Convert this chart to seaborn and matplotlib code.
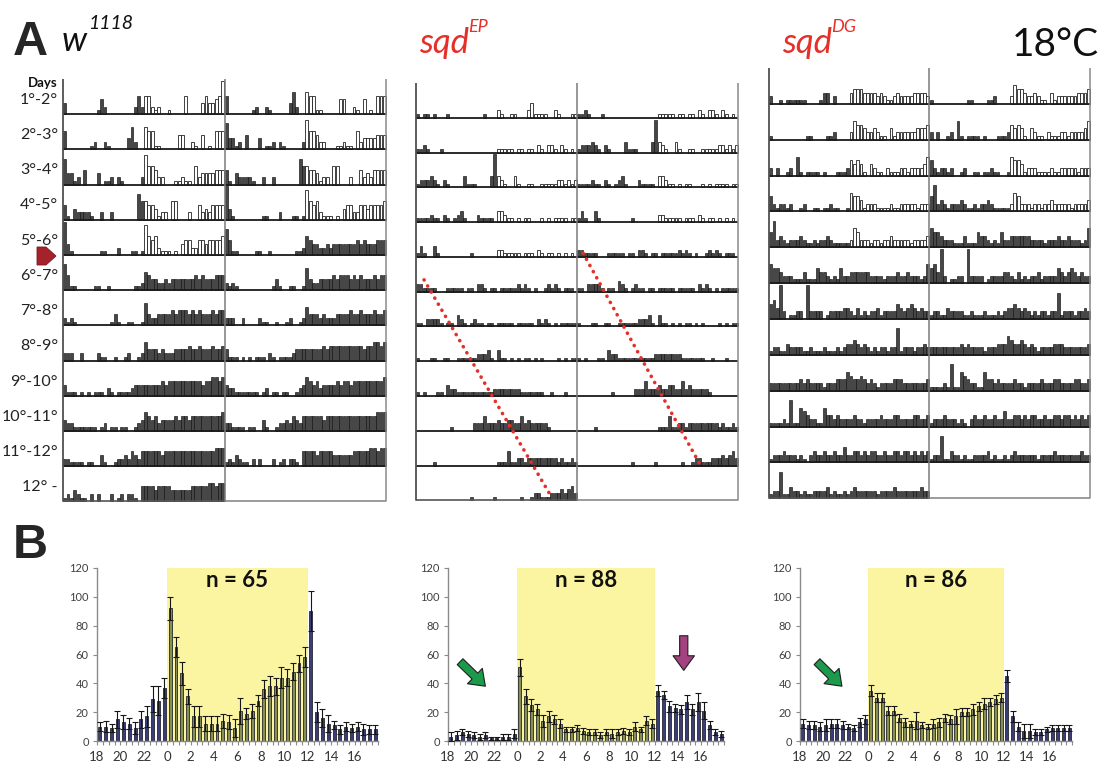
import numpy as np
import pandas as pd
import matplotlib
matplotlib.use("Agg")
import matplotlib.pyplot as plt
import matplotlib.patches as mpatches
import seaborn as sns

W, H = 1102, 769
BINS = 48          # 30-min bins per day
LD_DAYS = 5        # days 1-5 in light/dark, then constant darkness
LIGHT_ON, LIGHT_OFF = 12, 36   # bin range of the light phase in panel B

# ---------------- Panel A: activity per 30-min bin (0-9 scale), one string per day ----------------
DAY_LABELS = ["1°-2°", "2°-3°", "3°-4°", "4°-5°", "5°-6°", "6°-7°", "7°-8°",
              "8°-9°", "9°-10°", "10°-11°", "11°-12°", "12° -"]

W1118_DAYS = [
    "300000000014200000000252" "552120010000500003533459",
    "500000001200210000036200" "655110000044002104010555",
    "733120400030112021000002" "855422000112110523333444",
    "410322221002002000000075" "544312205500020042324444",
    "931000000001100020001101" "854521110103442244344445",
    "741100000110010000000112" "543322323333333434333444",
    "212100000000001310011001" "632233334344434343334344",
    "222002000021100100120012" "533323222333343343334334",
    "311101010111021011112333" "333334344444444443445545",
    "322111111101201101100123" "543423333434434444444445",
    "221111011003100122324324" "444443444444444444444555",
    "121321102020002012022104" "444344443333334444455455",
]

SQD_EP_DAYS = [
    "101101000100000000001000" "210011000241111002100011",
    "112100010000000000000000" "111110110110210221021010",
    "122232102100003111000039" "321003100110011111221212",
    "111121102101231000211110" "332110101100010101111011",
    "131003100000000010000000" "221111101110210110101010",
    "221111000111110110221011" "011111212101001212101110",
    "110222210110321012110110" "111110111110212101011111",
    "100011001100111111222310" "311010101101010000101011",
    "101000110322111111111112" "222222211111110010001000",
    "000000000010000002224222" "322332242322222100000000",
    "000001000000000000000000" "111411221222222222121121",
    "000000000000000010000001" "000000010012211122232342",
]

SQD_DG_DAYS = [
    "200101111110000133020000" "344433332321123222233332",
    "100000000001100001120000" "254432232110312222223334",
    "202001205101111010001112" "434310321102111221222235",
    "421221200120011011211001" "544312221111211222221222",
    "472321222321121223211111" "254222122122322222122223",
    "544322211131114332121422" "333333222212223223222125",
    "453920112209222201222233" "213121223122224323432322",
    "122113222211211121112123" "343232121221227122212232",
    "222222222323222212223335" "433432321222233322222223",
    "111121711543221153323222" "232212222322233222233223",
    "122232221210232232232242" "233232332232233233232323",
    "122711322121122223121121" "232222221222232222222322",
]

# ---------------- Panel B: mean activity (± SEM) per 30-min bin, ZT18 -> ZT17.5 ----------------
HOUR_LABELS = ["18", "20", "22", "0", "2", "4", "6", "8", "10", "12", "14", "16"]

W1118_MEAN = [10, 10, 9, 15, 13, 12, 9, 15, 17, 29, 28, 37,
              92, 65, 47, 31, 17, 17, 12, 12, 12, 14, 13, 9,
              21, 19, 21, 28, 36, 38, 38, 44, 44, 48, 54, 58,
              90, 20, 16, 12, 11, 8, 10, 9, 10, 8, 8, 8]
W1118_SEM = [3, 4, 3, 6, 5, 4, 4, 6, 7, 9, 10, 7,
             8, 7, 8, 5, 7, 7, 5, 5, 5, 5, 5, 6,
             9, 4, 5, 4, 6, 7, 6, 7, 6, 6, 6, 7,
             14, 7, 6, 6, 3, 3, 3, 3, 3, 4, 3, 3]

SQD_EP_MEAN = [3, 4, 6, 5, 4, 3, 4, 2, 2, 3, 3, 5,
               51, 31, 25, 22, 14, 17, 15, 12, 8, 8, 9, 7,
               6, 6, 4, 6, 5, 6, 7, 6, 10, 8, 14, 12,
               35, 32, 24, 23, 22, 27, 22, 27, 21, 11, 6, 5]
SQD_EP_SEM = [3, 3, 2, 2, 2, 2, 2, 1, 1, 2, 2, 3,
              6, 5, 4, 4, 4, 4, 3, 3, 2, 2, 2, 2,
              2, 2, 2, 2, 3, 2, 2, 2, 3, 2, 3, 3,
              4, 3, 4, 3, 3, 5, 4, 6, 6, 3, 2, 2]

SQD_DG_MEAN = [12, 11, 11, 10, 11, 12, 12, 11, 10, 9, 13, 15,
               35, 30, 30, 21, 21, 16, 13, 12, 14, 11, 10, 12,
               13, 16, 15, 17, 20, 20, 22, 24, 26, 27, 29, 30,
               45, 17, 10, 7, 7, 6, 6, 8, 9, 9, 9, 9]
SQD_DG_SEM = [3, 3, 3, 3, 4, 3, 3, 3, 2, 2, 3, 3,
              4, 3, 3, 3, 3, 3, 3, 2, 6, 2, 2, 3,
              3, 3, 3, 5, 3, 3, 4, 3, 4, 3, 3, 3,
              4, 4, 3, 5, 5, 2, 2, 2, 2, 2, 2, 2]

N_FLIES = [65, 88, 86]

NAVY = "#2e3482"
OLIVE = "#8d9a4b"
YELLOW = "#fbf5a2"
RED = "#e5302a"

sns.set_theme(style="white")
plt.rcParams["font.family"] = ["Lato", "DejaVu Sans"]

fig = plt.figure(figsize=(W / 100, H / 100), dpi=100)


def px_axes(left, top, width, height):
    return fig.add_axes([left / W, 1 - (top + height) / H, width / W, height / H])


def draw_actogram(ax, days):
    n = len(days)
    counts = np.array([[int(c) for c in d] for d in days])
    assert counts.shape == (n, BINS)
    filled = {"x": [], "h": [], "b": []}
    hollow = {"x": [], "h": [], "b": []}
    for r in range(n):
        base = n - 1 - r
        for half in (0, 1):
            d = r + half
            if d >= n:
                continue
            for b in range(BINS):
                v = counts[d, b]
                if v == 0:
                    continue
                tgt = hollow if (d < LD_DAYS and b >= BINS // 2) else filled
                tgt["x"].append(half * BINS + b + 0.5)
                tgt["h"].append(v / 9 * 0.95)
                tgt["b"].append(base)
    ax.bar(filled["x"], filled["h"], bottom=filled["b"], width=0.85,
           color="#474747", edgecolor="#111111", linewidth=0.45)
    ax.bar(hollow["x"], hollow["h"], bottom=hollow["b"], width=0.85,
           color="white", edgecolor="#222222", linewidth=0.6)
    for r in range(n):
        base = n - 1 - r
        if r < n - 1:
            ax.plot([0, 2 * BINS], [base, base], color="#1a1a1a", lw=1.3, solid_capstyle="butt")
        else:
            ax.plot([0, BINS], [base, base], color="#555555", lw=1.2, solid_capstyle="butt")
            ax.plot([BINS, 2 * BINS], [base, base], color="#8a8a8a", lw=1.2, solid_capstyle="butt")
    ax.plot([0, 0], [0, n], color="#505050", lw=1.3)
    ax.plot([BINS, BINS], [0, n], color="#7a7a7a", lw=1.1)
    ax.plot([2 * BINS, 2 * BINS], [0, n], color="#8a8a8a", lw=1.1)
    ax.set_xlim(-0.3, 2 * BINS + 0.3)
    ax.set_ylim(-0.02, n)
    ax.axis("off")


def draw_profile(ax, mean, sem, n):
    phase = ["light" if LIGHT_ON <= i < LIGHT_OFF else "dark" for i in range(BINS)]
    df = pd.DataFrame({"bin": np.arange(BINS), "activity": mean, "phase": phase})
    ax.axvspan(LIGHT_ON - 0.5, LIGHT_OFF - 0.5, color=YELLOW, lw=0, zorder=0)
    sns.barplot(data=df, x="bin", y="activity", hue="phase", hue_order=["dark", "light"],
                palette={"dark": NAVY, "light": OLIVE}, dodge=False, width=0.5,
                errorbar=None, edgecolor="#26262e", linewidth=0.6, legend=False, ax=ax)
    ax.errorbar(np.arange(BINS), mean, yerr=sem, fmt="none", ecolor="#161616",
                elinewidth=0.8, capsize=2.3, capthick=0.8, zorder=5)
    ax.set_xlim(-0.5, BINS - 0.5)
    ax.set_ylim(0, 120)
    ax.set_xticks([4 * k - 0.5 for k in range(len(HOUR_LABELS))])
    ax.set_xticklabels(HOUR_LABELS)
    ax.set_xticks(np.arange(BINS + 1) - 0.5, minor=True)
    ax.set_yticks(range(0, 121, 20))
    ax.tick_params(axis="x", which="both", direction="out", length=3, width=0.8,
                   color="#8a8a8a", bottom=True, labelsize=9.5, labelcolor="#333333", pad=4)
    ax.tick_params(axis="y", direction="out", length=3, width=0.8, color="#8a8a8a",
                   left=True, labelsize=8, labelcolor="#404040", pad=3)
    ax.set_xlabel("")
    ax.set_ylabel("")
    sns.despine(ax=ax)
    for s in ("left", "bottom"):
        ax.spines[s].set_color("#8a8a8a")
        ax.spines[s].set_linewidth(1.0)
    ax.text((LIGHT_ON + LIGHT_OFF) / 2 - 0.5, 111, f"n = {n}", ha="center", va="center",
            fontsize=16, fontweight="bold", color="#111111")
    ax.patch.set_alpha(0)


def block_arrow(ax, start, end, color):
    ax.annotate("", xy=end, xytext=start, annotation_clip=False,
                arrowprops=dict(arrowstyle="simple,head_length=0.75,head_width=1.1,tail_width=0.42",
                                fc=color, ec="#1e1e1e", lw=0.8, mutation_scale=14,
                                shrinkA=0, shrinkB=0))


# ---- actograms ----
ax_w = px_axes(62, 79, 325, 423)
draw_actogram(ax_w, W1118_DAYS)
ax_ep = px_axes(415, 83, 324, 418)
draw_actogram(ax_ep, SQD_EP_DAYS)
ax_dg = px_axes(768, 68, 323, 431)
draw_actogram(ax_dg, SQD_DG_DAYS)

# period-lengthening trend in sqd^EP free run
for (x0, r0), (x1, r1) in [((2.4, 5.66), (40.0, 11.84)), ((49.8, 4.89), (84.4, 10.92))]:
    ax_ep.plot([x0, x1], [12 - r0, 12 - r1], color=RED, lw=2.6, ls=(0, (0.05, 1.9)),
               dash_capstyle="round")

# ---- average daily profiles ----
ax_b1 = px_axes(97, 568, 281, 173)
draw_profile(ax_b1, W1118_MEAN, W1118_SEM, N_FLIES[0])
ax_b2 = px_axes(448, 568, 276, 173)
draw_profile(ax_b2, SQD_EP_MEAN, SQD_EP_SEM, N_FLIES[1])
ax_b3 = px_axes(800, 568, 272, 173)
draw_profile(ax_b3, SQD_DG_MEAN, SQD_DG_SEM, N_FLIES[2])

block_arrow(ax_b2, (1.6, 55), (6.0, 38), "#1a9a4a")
block_arrow(ax_b2, (40.5, 73), (40.5, 49), "#a3427e")
block_arrow(ax_b3, (2.5, 55), (6.9, 38), "#1a9a4a")

# ---- titles and labels (pixel coordinates) ----
ov = fig.add_axes([0, 0, 1, 1], zorder=10)
ov.set_xlim(0, W)
ov.set_ylim(H, 0)
ov.axis("off")

bold_sans = ["Liberation Sans", "DejaVu Sans"]
ov.text(13, 55, "A", fontsize=35, fontweight="bold", family=bold_sans, va="baseline")
ov.text(13, 558, "B", fontsize=35, fontweight="bold", family=bold_sans, va="baseline")

ov.text(62, 51, "w", fontsize=25, style="italic", va="baseline", color="#111111")
ov.text(88, 29, "1118", fontsize=14, style="italic", va="baseline", color="#111111")
ov.text(419, 53, "sqd", fontsize=25, style="italic", va="baseline", color=RED)
ov.text(468, 32, "EP", fontsize=13, style="italic", va="baseline", color=RED)
ov.text(782, 53, "sqd", fontsize=25, style="italic", va="baseline", color=RED)
ov.text(831, 32, "DG", fontsize=13, style="italic", va="baseline", color=RED)
ov.text(1012, 56, "18°C", fontsize=28, va="baseline", color="#111111")

ov.text(28, 87, "Days", fontsize=9.5, fontweight="bold", va="baseline", color="#111111")
row_h = 423 / 12
for i, lab in enumerate(DAY_LABELS):
    ov.text(58, 79 + row_h * (i + 0.5) + 3, lab, fontsize=11.5, ha="right", va="center",
            color="#222222")

ov.add_patch(mpatches.Polygon([(37, 247), (46, 247), (56, 256), (46, 265), (37, 265)],
                              closed=True, fc="#a3222b", ec="#7a1a20", lw=0.6))

fig.savefig("out.png", dpi=100)
